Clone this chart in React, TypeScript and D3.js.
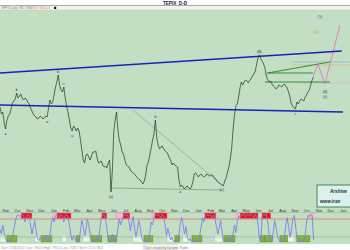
import React from 'react';
import * as d3 from 'd3';

const W = 350;
const H = 250;
const START = new Date(2008, 7, 18);
const END = new Date(2011, 0, 18);
const WEEK = 7 * 864e5;
const STEP = WEEK / 2; // twice-weekly samples

// twice-weekly closes of the index
const closes = [
  8030, 7960, 7980, 7870, 7810, 7900, 7940, 7960, 8010, 8070,
  8090, 8110, 8170, 8120, 8140, 8160, 8120, 8100, 8120, 8110,
  8080, 8060, 8020, 7990, 7960, 7940, 7930, 7910, 7920, 7940,
  7930, 7910, 7920, 7940, 7930, 8020, 8100, 8060, 8080, 8150,
  8230, 8280, 8350, 8250, 8200, 8180, 8230, 8120, 8040, 7980,
  7900, 7820, 7790, 7840, 7820, 7790, 7820, 7790, 7700, 7600,
  7500, 7470, 7550, 7560, 7530, 7500, 7540, 7580, 7580, 7590,
  7520, 7470, 7480, 7490, 7450, 7430, 7440, 7420, 7470, 7500,
  7180, 7400, 7780, 7900, 7980, 7800, 7700, 7650, 7580, 7560,
  7500, 7450, 7440, 7430, 7400, 7380, 7370, 7360, 7340, 7320,
  7310, 7300, 7280, 7260, 7290, 7350, 7450, 7480, 7550, 7620,
  7700, 7760, 7900, 7720, 7650, 7610, 7630, 7640, 7610, 7590,
  7580, 7560, 7520, 7500, 7450, 7470, 7450, 7440, 7430, 7300,
  7230, 7250, 7230, 7210, 7230, 7240, 7220, 7210, 7230, 7280,
  7360, 7370, 7350, 7330, 7350, 7360, 7340, 7330, 7340, 7360,
  7350, 7340, 7350, 7350, 7330, 7320, 7300, 7280, 7270, 7260,
  7250, 7240, 7290, 7320, 7380, 7430, 7510, 7620, 7800, 7950,
  8040, 8060, 8130, 8220, 8280, 8250, 8280, 8300, 8290, 8270,
  8300, 8310, 8340, 8360, 8390, 8460, 8520, 8550, 8510, 8490,
  8460, 8420, 8340, 8300, 8280, 8290, 8260, 8240, 8230, 8210,
  8220, 8250, 8240, 8230, 8250, 8260, 8240, 8220, 8180, 8130,
  8060, 8040, 8020, 8010, 8080, 8060, 8090, 8110, 8100, 8090,
  8130, 8150, 8180, 8200, 8250, 8300, 8330,
];

// stochastic %K, twice-weekly
const stochK = [
  45, 30, 60, 35, 15, 6, 4, 8, 5, 20,
  45, 70, 90, 95, 88, 92, 97, 90, 70, 85,
  95, 92, 60, 30, 50, 75, 40, 15, 8, 20,
  10, 5, 8, 25, 12, 6, 30, 65, 85, 70,
  90, 96, 93, 85, 95, 90, 70, 92, 95, 88,
  60, 30, 10, 25, 15, 5, 8, 4, 40, 75,
  55, 25, 45, 80, 60, 30, 10, 5, 12, 6,
  20, 8, 45, 85, 92, 95, 80, 50, 15, 5,
  10, 30, 8, 4, 15, 50, 80, 60, 75, 92,
  96, 90, 95, 70, 40, 70, 88, 50, 20, 45,
  75, 55, 20, 8, 5, 12, 6, 10, 35, 70,
  60, 85, 95, 92, 97, 90, 85, 95, 88, 60,
  25, 50, 30, 10, 20, 6, 4, 10, 5, 30,
  65, 85, 60, 30, 55, 20, 8, 15, 6, 5,
  12, 4, 10, 6, 25, 55, 85, 70, 92, 96,
  90, 95, 92, 85, 94, 80, 55, 30, 50, 75,
  40, 10, 5, 12, 6, 20, 8, 5, 30, 60,
  35, 70, 90, 85, 95, 92, 96, 88, 93, 95,
  90, 96, 92, 85, 95, 90, 60, 15, 8, 90,
  95, 92, 96, 70, 30, 10, 5, 40, 75, 50,
  25, 10, 4, 8, 5, 20, 60, 85, 55, 20,
  40, 80, 92, 60, 15, 5, 8, 4, 10, 6,
  30, 70, 92, 88, 95, 90, 10,
];

// trend lines: [week, value] pairs
const channelUpper = [[0, 8370], [123.2, 8590]];
const channelLower = [[0, 8050], [123.6, 7980]];
const grayDiagonal = [[47.9, 8000], [80, 7250]];
const grayBase = [[39.6, 7220], [80, 7200]];
const greenLevelHigh = [[96.2, 8370], [112.8, 8370]];
const greenLevelLow = [[95.5, 8280], [118.9, 8280]];
const greenSlope = [[96.5, 8370], [118.9, 8480]];
const futureLevelA = [[105.5, 8480], [126, 8480]];
const futureLevelB = [[105.5, 8450], [126, 8450]];
const futureLevelC = [[108, 8270], [126, 8270]];
const projection = [[112.8, 8330], [114.6, 8460], [117.1, 8260], [122.5, 8850]];

// indicator boxes: [startWeek, endWeek]
const redBoxes = [[7.6, 11.5], [20.5, 25.6], [36.7, 38.5], [44.3, 46.8], [55.8, 60.2], [73.8, 77.8], [86.5, 93], [94.4, 97.6]];
const pinkBoxes = [[19.1, 20.5], [41.8, 44.3], [54.8, 55.8], [85.4, 86.5], [111.7, 112.8]];
const greenBoxes = [[2.5, 6.1], [14.8, 18.7], [27.4, 28.8], [32.8, 36.7], [38.9, 42.1], [51.9, 55.1], [63, 64.8], [69.2, 72.8], [80.7, 84.7], [93.7, 95.5], [95.5, 98.3], [100.9, 103.7], [107, 111.7]];
const paleBoxes = [[0, 2.2], [12.6, 14.4], [22.3, 24.1], [29.9, 32.4], [47.9, 51.5], [60.2, 63], [65.9, 68.4], [77.4, 80.3], [103.7, 106.3]];

// wave labels: [sampleIndex, text, above?]
const waveLabels: [number, string, boolean][] = [
  [4, 'a', false], [12, 'b', true], [34, 'a', false], [42, 'b', true],
  [46, 'c', true], [52, 'a', false], [80, '(a)', false], [112, 'b', true],
  [130, 'a', false], [160, '(c)', false], [187, '(B)', true], [213, 'c', false],
];

const dateAt = (j: number) => new Date(START.getTime() + j * STEP);
const weekDate = (w: number) => new Date(START.getTime() + w * WEEK);

export default function App() {
  const x = d3.scaleTime().domain([START, END]).range([0, W]);
  const yP = d3.scaleLinear().domain([7000, 9000]).range([210, 10]);
  const yS = d3.scaleLinear().domain([0, 100]).range([243, 213]);

  const priceLine = d3.line<number>().x((_, i) => x(dateAt(i))).y((d) => yP(d));
  const stochLine = d3.line<number>().x((_, i) => x(dateAt(i))).y((d) => yS(d));
  const seg = d3.line<number[]>().x((d) => x(weekDate(d[0]))).y((d) => yP(d[1]));

  const months = x.ticks(d3.timeMonth.every(1) as any);
  const fmt = d3.timeFormat('%b');

  const boxes = (list: number[][], fill: string, stroke: string, y0: number, y1: number) =>
    list.map((b, k) => (
      <rect key={fill + k} x={x(weekDate(b[0]))} y={y0} width={x(weekDate(b[1])) - x(weekDate(b[0]))} height={y1 - y0} fill={fill} stroke={stroke} strokeWidth={0.4} />
    ));

  return (
    <svg width={W} height={H} style={{ position: 'absolute', left: 0, top: 0 }} fontFamily="Liberation Sans, Arial, sans-serif">
      <rect x={0} y={0} width={W} height={H} fill="#c3dec3" />
      {/* title bars */}
      <rect x={0} y={0} width={W} height={5.5} fill="#ffffff" />
      <text x={163} y={4.6} fontSize={4.6} fontWeight="bold" fill="#222">TEPIX_D-D</text>
      <line x1={0} x2={W} y1={5.5} y2={5.5} stroke="#9a9a9a" strokeWidth={0.8} />
      <rect x={0} y={6} width={W} height={4} fill="#f2f2f2" />
      <line x1={0} x2={W} y1={10} y2={10} stroke="#b8c8b8" strokeWidth={0.5} />
      <text x={1} y={9.2} fontSize={3} fill="#777">TEPIX,Daily 7932 7945</text>
      <text x={31} y={9.2} fontSize={3} fill="#e08060">7928 7944</text>
      <text x={46} y={9.2} fontSize={3} fill="#e0a060">0%</text>
      <rect x={54} y={6.8} width={2.2} height={2.2} fill="#111" />

      {/* trend lines */}
      <path d={seg(grayDiagonal) || ''} fill="none" stroke="#8aa38a" strokeWidth={0.7} />
      <path d={seg(grayBase) || ''} fill="none" stroke="#7a9a7a" strokeWidth={0.7} />
      <path d={seg(futureLevelA) || ''} fill="none" stroke="#9a9ad8" strokeWidth={0.6} />
      <path d={seg(futureLevelB) || ''} fill="none" stroke="#d8b070" strokeWidth={0.6} />
      <path d={seg(futureLevelC) || ''} fill="none" stroke="#e0a8c8" strokeWidth={0.6} />
      <path d={seg(greenLevelHigh) || ''} fill="none" stroke="#1e8a1e" strokeWidth={0.9} />
      <path d={seg(greenLevelLow) || ''} fill="none" stroke="#1e8a1e" strokeWidth={0.9} />
      <path d={seg(greenSlope) || ''} fill="none" stroke="#1e8a1e" strokeWidth={0.9} />
      <path d={seg(projection) || ''} fill="none" stroke="#e070c0" strokeWidth={0.8} />
      <path d={seg(channelUpper) || ''} fill="none" stroke="#1424b8" strokeWidth={1.3} />
      <path d={seg(channelLower) || ''} fill="none" stroke="#1424b8" strokeWidth={1.3} />

      {/* price */}
      <path d={priceLine(closes) || ''} fill="none" stroke="#1c3a1c" strokeWidth={0.7} />
      {waveLabels.map(([i, t, above], k) => (
        <text key={k} x={x(dateAt(i))} y={yP(closes[i]) + (above ? -2.5 : 5.5)} fontSize={3.6} textAnchor="middle" fill="#203a30">{t}</text>
      ))}
      <text x={325} y={93} fontSize={3.6} textAnchor="middle" fill="#203a30">(4)</text>
      <text x={325} y={98} fontSize={3.6} textAnchor="middle" fill="#2040c0">(ii)</text>
      <text x={320} y={18} fontSize={4} textAnchor="middle" fill="#3050d0">(5)</text>
      <text x={316} y={33} fontSize={4} textAnchor="middle" fill="#e07040">(C)</text>

      {/* info box */}
      <rect x={317} y={185} width={40} height={22} fill="#dcf0ee" stroke="#2a6a3a" strokeWidth={0.8} />
      <text x={330} y={193} fontSize={4.6} fontStyle="italic" fontWeight="bold" fill="#203030">Arshive</text>
      <text x={320} y={203} fontSize={4.6} fontStyle="italic" fontWeight="bold" fill="#203030">www.iran</text>

      {/* month labels */}
      {months.map((m, k) => (
        <text key={k} x={x(m)} y={211.5} fontSize={3.8} textAnchor="middle" fill="#304030">{fmt(m)}</text>
      ))}

      {/* indicator */}
      <line x1={0} x2={W} y1={212.5} y2={212.5} stroke="#9aa89a" strokeWidth={0.5} />
      {boxes(paleBoxes, '#e8f5e2', '#b0c8a8', 235.5, 242)}
      {boxes(greenBoxes, '#7fb23a', '#5e8a28', 235.5, 242)}
      {boxes(redBoxes, '#ee1111', '#f08080', 213, 218.5)}
      {boxes(pinkBoxes, '#ffb6cc', '#e08aa8', 213, 218.5)}
      <line x1={0} x2={W} y1={yS(80)} y2={yS(80)} stroke="#d86a5a" strokeWidth={0.7} />
      <line x1={0} x2={W} y1={yS(20)} y2={yS(20)} stroke="#8aa88a" strokeWidth={0.5} />
      <path d={stochLine(stochK) || ''} fill="none" stroke="#7f7ff0" strokeWidth={0.9} />

      {/* status bar */}
      <rect x={0} y={244} width={W} height={6} fill="#ffffff" />
      <text x={1} y={248.5} fontSize={3} fill="#999">Date: 12/08/2010 Close: 7944.9 High: 7945.0 Low: 7928.2 Stoch: 12.5 / 48.3</text>
      <rect x={143} y={244.5} width={34} height={5} fill="#f4f4f4" stroke="#bbb" strokeWidth={0.3} />
      <text x={144} y={248.5} fontSize={3} fill="#777">Chart created by Dynamic Trader</text>
    </svg>
  );
}
